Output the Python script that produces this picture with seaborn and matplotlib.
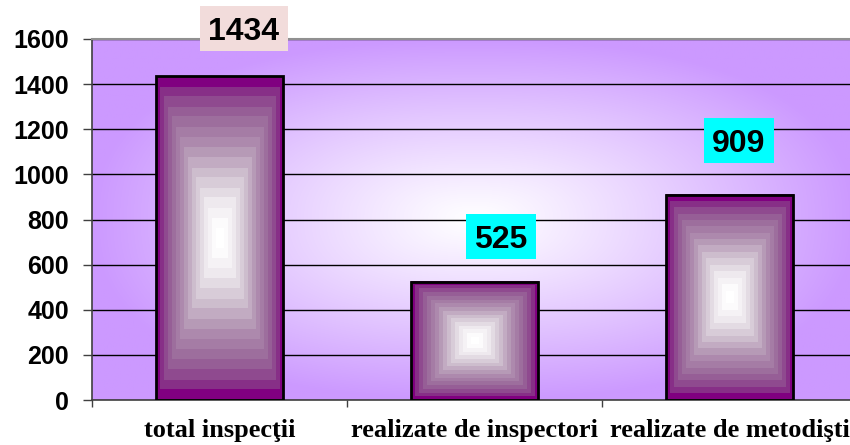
import numpy as np
import pandas as pd
import matplotlib
matplotlib.use("Agg")
import matplotlib.pyplot as plt
import seaborn as sns
from matplotlib.patches import Rectangle
from matplotlib.transforms import ScaledTranslation
from matplotlib.colors import LinearSegmentedColormap

# Data
categories = ["total inspecţii", "realizate de inspectori", "realizate de metodişti"]
values = [1434, 525, 909]
label_fill = ["#F2DCDB", "#00FFFF", "#00FFFF"]
y_ticks = [0, 200, 400, 600, 800, 1000, 1200, 1400, 1600]

# Label box placement relative to each bar top (inches: dx, dy, width)
label_boxes = [(0.24, 0.48, 0.88), (0.265, 0.45, 0.70), (0.095, 0.54, 0.70)]
BOX_H = 0.45

sns.set_theme(style="white")
plt.rcParams["font.family"] = ["Liberation Sans", "DejaVu Sans"]

fig = plt.figure(figsize=(8.5, 4.45), dpi=100)
ax = fig.add_axes([92 / 850, 45 / 445, 765 / 850, 361 / 445])

df = pd.DataFrame({"categorie": categories, "valoare": values})
sns.barplot(data=df, x="categorie", y="valoare", width=0.5, ax=ax,
            color="white", edgecolor="black", linewidth=2.0)

# Plot-area background: purple with a soft white glow in the middle
n = 400
gx, gy = np.meshgrid(np.linspace(-1, 1, n), np.linspace(-1, 1, n))
t = np.clip((np.abs(gx) ** 2.4 + np.abs(gy) ** 2.4) ** (1 / 2.4), 0, 1)
purple_bg = np.array([204, 153, 255]) / 255
white = np.ones(3)
bg = white[None, None, :] + (purple_bg - white)[None, None, :] * (t ** 1.1)[..., None]
ax.imshow(bg, extent=(0, 1, 0, 1), transform=ax.transAxes, aspect="auto",
          zorder=0, interpolation="bilinear")

# Bars: stepped rectangular gradient from purple edges to a white centre
bar_cmap = LinearSegmentedColormap.from_list(
    "bar_fill",
    [(0.0, "#800080"), (0.08, "#8A3C8A"), (0.22, "#9A689A"),
     (0.4, "#B08FB0"), (0.58, "#D0C2D0"), (0.76, "#F0EBF0"), (0.9, "#FFFFFF"),
     (1.0, "#FFFFFF")])
for p in ax.patches:
    p.set_facecolor("none")
    p.set_zorder(3)
    x0, w, h = p.get_x(), p.get_width(), p.get_height()
    bx, by = np.meshgrid(np.linspace(-1, 1, 200), np.linspace(-1, 1, 400))
    tb = np.maximum(np.abs(bx), np.abs(by))
    s = 1 - np.ceil(tb * 16) / 16
    ax.imshow(bar_cmap(s), extent=(x0, x0 + w, 0, h), aspect="auto", zorder=2,
              interpolation="nearest")

ax.set_xlim(-0.5, 2.5)
ax.set_ylim(0, 1600)
ax.set_xlabel("")
ax.set_ylabel("")

# Grid and axes
ax.set_axisbelow(True)
ax.yaxis.grid(True, color="black", linewidth=1.0)
ax.xaxis.grid(False)
ax.set_yticks(y_ticks)
ax.set_yticklabels([str(v) for v in y_ticks], fontsize=18, fontweight="bold")
ax.tick_params(axis="y", left=True, length=6.5, width=1, color="#404040",
               pad=10, labelcolor="black")
ax.set_xticks(range(len(categories)))
ax.set_xticklabels(categories, fontsize=19, fontweight="bold",
                   family=["Liberation Serif", "DejaVu Serif"])
ax.tick_params(axis="x", which="major", length=0, pad=14, labelcolor="black")
ax.set_xticks([-0.5, 0.5, 1.5, 2.5], minor=True)
ax.tick_params(axis="x", which="minor", bottom=True, length=5, width=1,
               color="#404040", direction="out")
for side in ["left", "bottom"]:
    ax.spines[side].set_color("#404040")
    ax.spines[side].set_linewidth(1.2)
ax.spines["top"].set_color("#909090")
ax.spines["top"].set_linewidth(1.5)
ax.spines["right"].set_visible(False)

# Value labels in filled boxes
for i, (v, fc, (dx, dy, bw)) in enumerate(zip(values, label_fill, label_boxes)):
    tr = fig.dpi_scale_trans + ScaledTranslation(i, v, ax.transData)
    ax.add_patch(Rectangle((dx - bw / 2, dy - BOX_H / 2), bw, BOX_H,
                           transform=tr, facecolor=fc, edgecolor="none",
                           zorder=5, clip_on=False))
    ax.text(dx, dy - 0.115, str(v), transform=tr, ha="center", va="baseline",
            fontsize=23, fontweight="bold", color="black", zorder=6,
            clip_on=False)

fig.savefig("out.png", dpi=100)
